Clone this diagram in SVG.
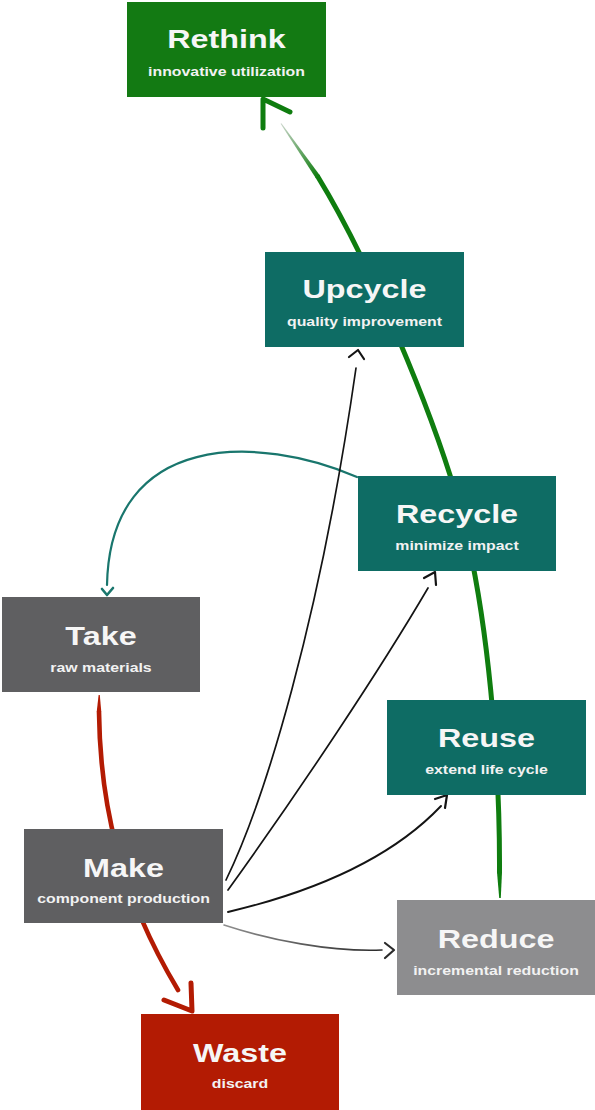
<svg xmlns="http://www.w3.org/2000/svg" width="595" height="1110" viewBox="0 0 595 1110">
  <style>
    .t { font-family: "Liberation Sans", Arial, sans-serif; font-weight: bold; font-size: 26.5px; fill: #f6f6f6; text-anchor: middle; }
    .s { font-family: "Liberation Sans", Arial, sans-serif; font-weight: bold; font-size: 13px; fill: #f2f2f2; text-anchor: middle; }
    .head { fill: none; stroke-linecap: round; stroke-linejoin: round; }
    .line { fill: none; stroke-linecap: round; }
  </style>
  <defs>
    <!-- green stroke fades out towards its upper end -->
    <linearGradient id="fadeGreen" gradientUnits="userSpaceOnUse" x1="281" y1="124" x2="318" y2="177">
      <stop offset="0" stop-color="#c8d4c8"/>
      <stop offset="1" stop-color="#0f7d0f"/>
    </linearGradient>
    <linearGradient id="fadeGray" gradientUnits="userSpaceOnUse" x1="224" y1="0" x2="382" y2="0">
      <stop offset="0" stop-color="#8e8e8e"/>
      <stop offset="1" stop-color="#2a2a2a"/>
    </linearGradient>
  </defs>

  <rect width="595" height="1110" fill="#ffffff"/>

  <!-- connectors (drawn under the boxes) -->
  <g id="connectors">
    <!-- Reduce to Rethink: thick green stroke with tapered ends -->
    <path class="line" stroke="#0f7d0f" stroke-width="5" d="M 499.5 872 C 500 770, 490 650, 472 560 C 452 450, 370 262, 318 177"/>
    <polygon fill="#0f7d0f" points="497,872 502,872 500.8,898 499.2,898"/>
    <polygon fill="url(#fadeGreen)" points="320.13,175.69 281.4,123.3 280.6,123.7 315.87,178.31"/>
    <path class="head" stroke="#0f7d0f" stroke-width="5" d="M 290 112 L 263 99 L 263 128"/>

    <!-- Take to Waste: thick red stroke, tapered at the top -->
    <path class="line" stroke="#b31b03" stroke-width="4.6" d="M 99 712 C 100 800, 118 890, 178 990"/>
    <polygon fill="#b31b03" points="96.7,712 101.3,712 99.8,695 98.6,695"/>
    <path class="head" stroke="#b31b03" stroke-width="5" d="M 191 983 L 192 1011 L 164 1000"/>

    <!-- Recycle back to Take -->
    <path class="line" stroke="#19766d" stroke-width="2.2" d="M 357 477 C 260 435, 110 430, 107 585"/>
    <path class="head" stroke="#19766d" stroke-width="2.6" d="M 102 589 L 107 595 L 113 588"/>

    <!-- Make to Upcycle -->
    <path class="line" stroke="#141414" stroke-width="1.7" d="M 226 880 C 265 800, 320 620, 356 368"/>
    <path class="head" stroke="#141414" stroke-width="2.2" d="M 349 357 L 358 350 L 364 359"/>

    <!-- Make to Recycle -->
    <path class="line" stroke="#141414" stroke-width="1.7" d="M 228 890 C 300 790, 380 670, 428 588"/>
    <path class="head" stroke="#141414" stroke-width="2.2" d="M 424 578 L 435 572 L 436 585"/>

    <!-- Make to Reuse -->
    <path class="line" stroke="#141414" stroke-width="1.9" d="M 228 912 C 300 895, 385 865, 441 806"/>
    <path class="head" stroke="#141414" stroke-width="2.2" d="M 435 799 L 447 795 L 445 808"/>

    <!-- Make to Reduce -->
    <path class="line" stroke="url(#fadeGray)" stroke-width="1.6" d="M 224 925 C 270 940, 330 952, 382 950"/>
    <path class="head" stroke="#2a2a2a" stroke-width="2.2" d="M 385 943 L 394 950 L 385 958"/>
  </g>

  <!-- nodes -->
  <g id="rethink">
    <rect x="127" y="2" width="199" height="95" fill="#137a13"/>
    <text class="t" transform="translate(226.5 48) scale(1.22 1)">Rethink</text>
    <text class="s" transform="translate(226.5 76) scale(1.22 1)">innovative utilization</text>
  </g>

  <g id="upcycle">
    <rect x="265" y="252" width="199" height="95" fill="#0e6c64"/>
    <text class="t" transform="translate(364.5 298) scale(1.22 1)">Upcycle</text>
    <text class="s" transform="translate(364.5 326) scale(1.22 1)">quality improvement</text>
  </g>

  <g id="recycle">
    <rect x="358" y="476" width="198" height="95" fill="#0e6c64"/>
    <text class="t" transform="translate(457 523) scale(1.22 1)">Recycle</text>
    <text class="s" transform="translate(457 550) scale(1.22 1)">minimize impact</text>
  </g>

  <g id="take">
    <rect x="2" y="597" width="198" height="95" fill="#5f5f61"/>
    <text class="t" transform="translate(101 645) scale(1.22 1)">Take</text>
    <text class="s" transform="translate(101 672) scale(1.22 1)">raw materials</text>
  </g>

  <g id="reuse">
    <rect x="387" y="700" width="199" height="95" fill="#0e6c64"/>
    <text class="t" transform="translate(486.5 747) scale(1.22 1)">Reuse</text>
    <text class="s" transform="translate(486.5 774) scale(1.22 1)">extend life cycle</text>
  </g>

  <g id="make">
    <rect x="24" y="829" width="199" height="94" fill="#5f5f61"/>
    <text class="t" transform="translate(123.5 877) scale(1.22 1)">Make</text>
    <text class="s" transform="translate(123.5 903) scale(1.22 1)">component production</text>
  </g>

  <g id="reduce">
    <rect x="397" y="900" width="198" height="95" fill="#8d8d8f"/>
    <text class="t" transform="translate(496 948) scale(1.22 1)">Reduce</text>
    <text class="s" transform="translate(496 975) scale(1.22 1)">incremental reduction</text>
  </g>

  <g id="waste">
    <rect x="141" y="1014" width="198" height="96" fill="#b31b03"/>
    <text class="t" transform="translate(240 1062) scale(1.22 1)">Waste</text>
    <text class="s" transform="translate(240 1088) scale(1.22 1)">discard</text>
  </g>
</svg>
